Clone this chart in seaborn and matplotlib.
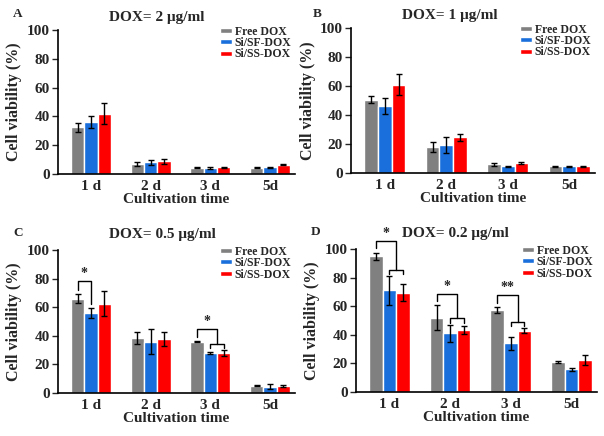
import matplotlib
matplotlib.use("Agg")
import matplotlib.pyplot as plt
import seaborn as sns
import pandas as pd

# categories
days = ["1 d", "2 d", "3 d", "5d"]
groups = ["Free DOX", "Si/SF-DOX", "Si/SS-DOX"]
colors = ["#808080", "#1a6fdc", "#ff0000"]

# panel A: DOX = 2 ug/ml
a_free = [32.5, 7.0, 4.3, 4.3]
a_free_err = [3.0, 1.5, 0.4, 0.4]
a_sf = [36.0, 8.0, 4.2, 4.8]
a_sf_err = [4.0, 2.0, 0.4, 0.3]
a_ss = [42.0, 8.7, 4.8, 6.4]
a_ss_err = [7.5, 1.5, 0.3, 0.2]

# panel B: DOX = 1 ug/ml
b_free = [50.5, 18.0, 6.0, 4.5]
b_free_err = [2.5, 3.5, 1.0, 0.3]
b_sf = [46.0, 19.0, 4.5, 4.5]
b_sf_err = [5.5, 5.5, 0.3, 0.3]
b_ss = [61.0, 24.5, 7.0, 4.5]
b_ss_err = [7.0, 2.5, 0.5, 0.3]

# panel C: DOX = 0.5 ug/ml
c_free = [66.0, 38.5, 36.0, 5.2]
c_free_err = [3.0, 4.5, 0.5, 0.3]
c_sf = [56.0, 36.0, 28.0, 4.5]
c_sf_err = [3.5, 8.5, 0.5, 1.5]
c_ss = [62.5, 38.0, 28.0, 5.0]
c_ss_err = [9.0, 5.0, 2.0, 0.6]

# panel D: DOX = 0.2 ug/ml
d_free = [95.0, 52.0, 57.5, 21.0]
d_free_err = [2.5, 8.5, 2.0, 1.0]
d_sf = [71.0, 41.0, 34.0, 16.0]
d_sf_err = [10.0, 6.0, 4.5, 1.0]
d_ss = [69.5, 43.5, 43.0, 22.5]
d_ss_err = [6.0, 3.0, 1.5, 3.5]

titles = ["DOX= 2 \u03bcg/ml", "DOX= 1 \u03bcg/ml", "DOX= 0.5 \u03bcg/ml", "DOX= 0.2 \u03bcg/ml"]
letters = ["A", "B", "C", "D"]

# significance marks: (panel, day index, type, label)
# "pair" = Free vs SF, "both" = Free vs (SF, SS)
sig_marks = [
    (2, 0, "pair", "*"),
    (2, 2, "both", "*"),
    (3, 0, "both", "*"),
    (3, 1, "both", "*"),
    (3, 2, "both", "**"),
]

panels = [
    [(a_free, a_free_err), (a_sf, a_sf_err), (a_ss, a_ss_err)],
    [(b_free, b_free_err), (b_sf, b_sf_err), (b_ss, b_ss_err)],
    [(c_free, c_free_err), (c_sf, c_sf_err), (c_ss, c_ss_err)],
    [(d_free, d_free_err), (d_sf, d_sf_err), (d_ss, d_ss_err)],
]

rows = []
for p, series in enumerate(panels):
    for g, (vals, errs) in enumerate(series):
        for d, (v, e) in enumerate(zip(vals, errs)):
            rows.append({"panel": p, "day": days[d], "group": groups[g], "value": v, "err": e})
df = pd.DataFrame(rows)

sns.set_style("ticks")
plt.rcParams["font.family"] = ["Liberation Serif", "DejaVu Serif"]
plt.rcParams["font.weight"] = "bold"
plt.rcParams["axes.labelweight"] = "bold"

fig = plt.figure(figsize=(6.04, 4.36), dpi=100)
W, H = 604, 436
# axes boxes in pixels: left, top, right, bottom
boxes = [(58, 30, 295, 174), (351, 28, 595, 173), (58, 250, 295, 393), (356, 249, 597, 392)]
title_pos = [(157, 18), (450, 15), (162, 234), (455, 233)]
letter_pos = [(18, 14), (317, 14), (18, 233), (316, 232)]

for p in range(4):
    l, t, r, b = boxes[p]
    ax = fig.add_axes([l / W, 1 - b / H, (r - l) / W, (b - t) / H])
    sub = df[df["panel"] == p]
    sns.barplot(data=sub, x="day", y="value", hue="group", hue_order=groups,
                palette=colors, width=0.67, errorbar=None, saturation=1,
                ax=ax)
    bar_conts = list(ax.containers)
    centers = []
    for g, cont in enumerate(bar_conts):
        xs = [bar.get_x() + bar.get_width() / 2 for bar in cont]
        centers.append(xs)
        vals, errs = panels[p][g]
        ax.errorbar(xs, vals, yerr=errs, fmt="none", ecolor="black",
                    elinewidth=1, capsize=2, capthick=1, zorder=3)

    for (sp, di, kind, label) in sig_marks:
        if sp != p:
            continue
        tops = [panels[p][g][0][di] + panels[p][g][1][di] for g in range(3)]
        xf, xsf, xss = centers[0][di], centers[1][di], centers[2][di]
        if kind == "pair":
            top = max(tops[0], tops[1]) + 9
            ax.plot([xf, xf, xsf, xsf], [tops[0] + 3, top, top, tops[1] + 3],
                    color="black", lw=1, clip_on=False)
            ax.text((xf + xsf) / 2, top + 1, label, ha="center", va="bottom", fontsize=10)
        else:
            top = max(tops) + 8
            sub_y = max(tops[1], tops[2]) + 4.5
            xm = (xsf + xss) / 2
            ax.plot([xf, xf, xm, xm], [tops[0] + 3, top, top, sub_y],
                    color="black", lw=1, clip_on=False)
            ax.plot([xsf, xsf, xss, xss], [sub_y - 3, sub_y, sub_y, sub_y - 3],
                    color="black", lw=1, clip_on=False)
            ax.text((xf + xm) / 2, top + 1, label, ha="center", va="bottom", fontsize=10)

    ax.set_ylim(0, 100)
    ax.set_xlim(-0.55, 3.42)
    ax.set_yticks([0, 20, 40, 60, 80, 100])
    ax.tick_params(axis="y", direction="out", length=4, width=1, labelsize=11, pad=2)
    ax.tick_params(axis="x", length=0, labelsize=11, pad=4)
    for lab in ax.get_xticklabels() + ax.get_yticklabels():
        lab.set_fontweight("bold")
    ax.set_xlabel("Cultivation time", fontsize=11, fontweight="bold", labelpad=0)
    ax.set_ylabel("Cell viability (%)", fontsize=11.5, fontweight="bold", labelpad=3)
    for s in ["left", "bottom"]:
        ax.spines[s].set_linewidth(1.2)
        ax.spines[s].set_color("black")
    sns.despine(ax=ax)

    leg = ax.legend(loc="upper right", bbox_to_anchor=(0.985, 1.03), frameon=False,
                    prop={"size": 8.5, "weight": "bold"}, handlelength=1.0,
                    handleheight=0.3, labelspacing=-0.05, handletextpad=0.25,
                    borderaxespad=0, borderpad=0.0)

    tx, ty = title_pos[p]
    fig.text(tx / W, 1 - ty / H, titles[p], ha="center", va="center",
             fontsize=11, fontweight="bold")
    lx, ly = letter_pos[p]
    fig.text(lx / W, 1 - ly / H, letters[p], ha="center", va="center",
             fontsize=9.5, fontweight="bold")

fig.savefig("out.png", dpi=100)
